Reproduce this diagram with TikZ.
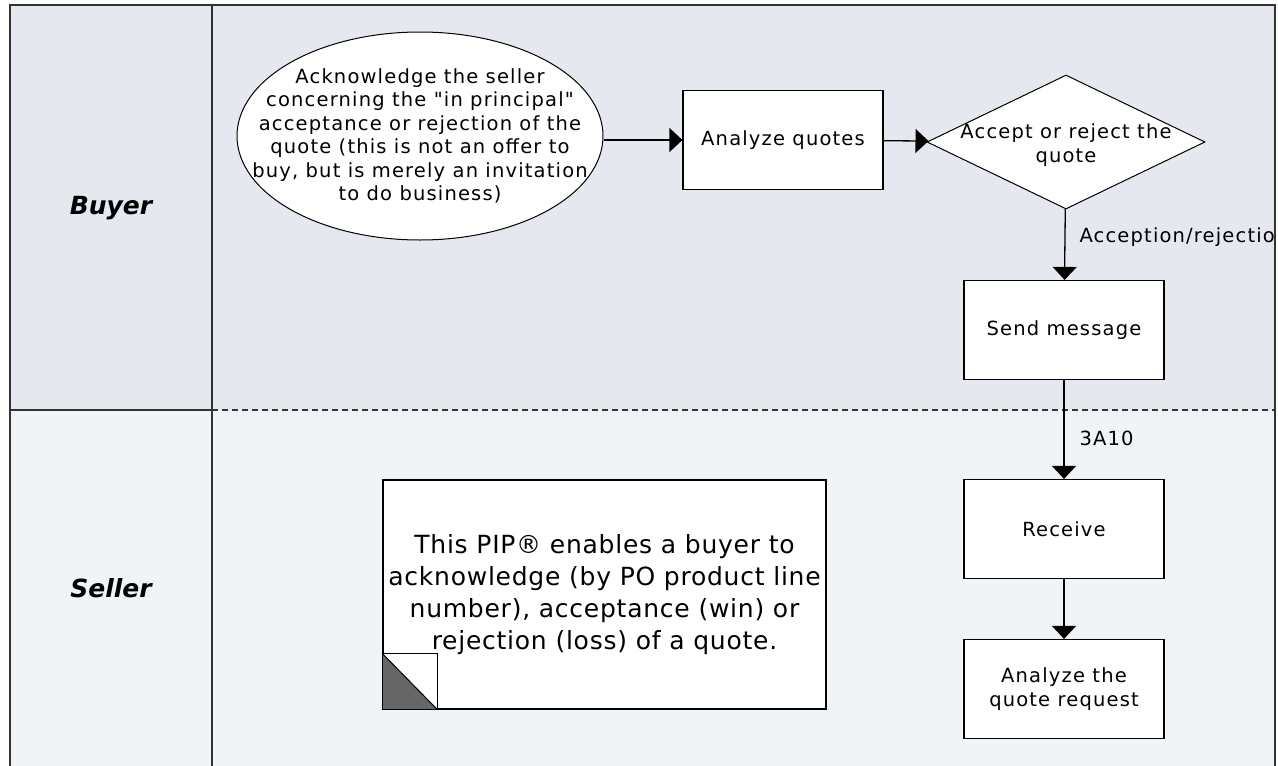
\documentclass[tikz,border=0pt]{standalone}
\usepackage{fontspec}
\setmainfont{DejaVu Sans}
\newfontfamily\flowfont[LetterSpace=6]{DejaVu Sans}
\newfontfamily\notefont[LetterSpace=3]{DejaVu Sans}
\usepackage{xcolor}
\definecolor{buyerlane}{HTML}{E6E8EF}
\definecolor{sellerlane}{HTML}{F0F4F7}
\definecolor{frame}{HTML}{333333}
\definecolor{fold}{HTML}{666666}
\usetikzlibrary{arrows.meta,shapes.geometric}

\begin{document}
\begin{tikzpicture}[x=1pt, y=-1pt,
  flow/.style={font=\flowfont\fontsize{19.5}{23.5}\selectfont, align=center},
  lane/.style={font=\fontsize{25}{30}\selectfont\bfseries\itshape},
  task/.style={flow, draw, fill=white, line width=1.2pt, minimum width=200pt, minimum height=99pt, inner sep=0pt},
  decision/.style={diamond, draw, fill=white, line width=1pt, minimum width=278pt, minimum height=134pt, inner sep=0pt},
  event/.style={ellipse, draw, fill=white, line width=1pt, minimum width=366pt, minimum height=208pt, inner sep=0pt},
  note/.style={draw, fill=white, line width=1.2pt, minimum width=443pt, minimum height=229pt, align=center,
    font=\notefont\fontsize{25}{32}\selectfont},
  msg/.style={flow, anchor=west},
  link/.style={line width=1.3pt, -{Triangle[length=13pt, width=24pt]}}]
  \useasboundingbox (0,0) rectangle (1278,766);

  % Lanes
  \fill[buyerlane] (10,5) rectangle (1276,410);
  \fill[sellerlane] (10,410) rectangle (1276,770);
  \draw[frame, line width=1.5pt] (10,770) -- (10,5) -- (1275,5) -- (1275,770);
  \draw[frame, line width=1.3pt] (212,5) -- (212,770);
  \draw[frame, line width=1.3pt] (10,410) -- (212,410);
  \draw[frame, line width=1.3pt, dash pattern=on 6pt off 4pt] (212,410) -- (1275,410);
  \node[lane] (buyer) at (111,208) {Buyer};
  \node[lane] (seller) at (111,588) {Seller};

  % Buyer activities
  \node[event, label={[flow]center:Acknowledge the seller\\concerning the "in principal"\\acceptance or rejection of the\\quote (this is not an offer to\\buy, but is merely an invitation\\to do business)}] (acknowledge) at (420,136) {};
  \node[task] (quotes) at (783,140) {Analyze quotes};
  \node[decision, label={[flow, yshift=-3pt]center:Accept or reject the\\quote}] (accept) at (1066,142) {};
  \node[task] (send) at (1064,330) {Send message};

  % Seller activities
  \node[task] (receive) at (1064,529) {Receive};
  \node[task] (request) at (1064,689) {Analyze the\\quote request};

  % Note
  \node[note] (summary) at (604.5,594.5) {This PIP® enables a buyer to\\acknowledge (by PO product line\\number), acceptance (win) or\\rejection (loss) of a quote.};
  \fill[fold] (summary.south west) -- ++(0,-56) -- ++(55,56) -- cycle;
  \draw[line width=1.2pt] (summary.south west) rectangle ++(55,-56);
  \draw[line width=1pt] (summary.south west) ++(0,-56) -- ++(55,56);

  % Flow
  \draw[link] (acknowledge.east |- quotes) -- (quotes);
  \draw[link] (quotes) -- (accept);
  \draw[link] (accept) -- (send);
  \draw[link] (send) -- (receive);
  \draw[link] (receive) -- (request);
  \begin{scope}
    \clip (10,5) rectangle (1274,766);
    \node[msg] (acception) at (1076,237) {Acception/rejection};
  \end{scope}
  \node[msg] (code) at (1076,438) {3A10};
\end{tikzpicture}
\end{document}
